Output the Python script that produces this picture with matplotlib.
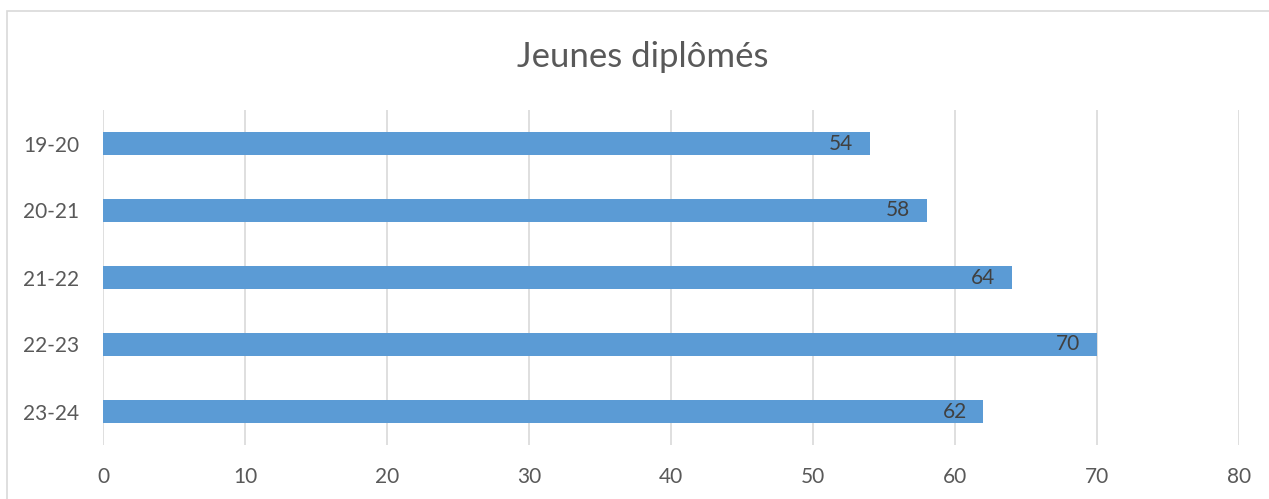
import matplotlib
matplotlib.use("Agg")
import matplotlib.pyplot as plt
from matplotlib.patches import Rectangle

categories = ["19-20", "20-21", "21-22", "22-23", "23-24"]
values = [54, 58, 64, 70, 62]
xticks = [0, 10, 20, 30, 40, 50, 60, 70, 80]
title = "Jeunes diplômés"

W, H = 1269, 499
fig = plt.figure(figsize=(W/100, H/100), dpi=100)
plt.rcParams['font.family'] = ['Lato', 'DejaVu Sans']

# outer chart border
fig.patches.append(Rectangle((7/W, 1-11/H - 2), 2, 2, transform=fig.transFigure,
                             fill=False, edgecolor='#D9D9D9', linewidth=1.2))

ax = fig.add_axes([103/W, 1-445/H, (1239-103)/W, (445-110)/H])
ypos = list(range(len(categories)))
ax.barh(ypos, values, height=0.35, color='#5B9BD5', zorder=3)
ax.set_ylim(len(categories)-0.5, -0.5)
ax.set_xlim(0, 80)
ax.set_yticks(ypos)
ax.set_yticklabels(categories, fontsize=15, color='#595959')
ax.set_xticks(xticks)
ax.set_xticklabels([str(t) for t in xticks], fontsize=15, color='#595959')
ax.tick_params(axis='both', length=0)
ax.tick_params(axis='y', pad=17)
ax.tick_params(axis='x', pad=16)
for s in ax.spines.values():
    s.set_visible(False)
ax.grid(axis='x', color='#D9D9D9', linewidth=1.2, zorder=0)
ax.set_axisbelow(True)

for v, y in zip(values, ypos):
    ax.annotate(str(v), xy=(v, y), xytext=(-12, 0), textcoords='offset points',
                ha='right', va='center', fontsize=15, color='#404040', zorder=4)

fig.text(643/W, 1-57/H, title, ha='center', va='center', fontsize=25, color='#595959')

fig.savefig("out.png", dpi=100)
